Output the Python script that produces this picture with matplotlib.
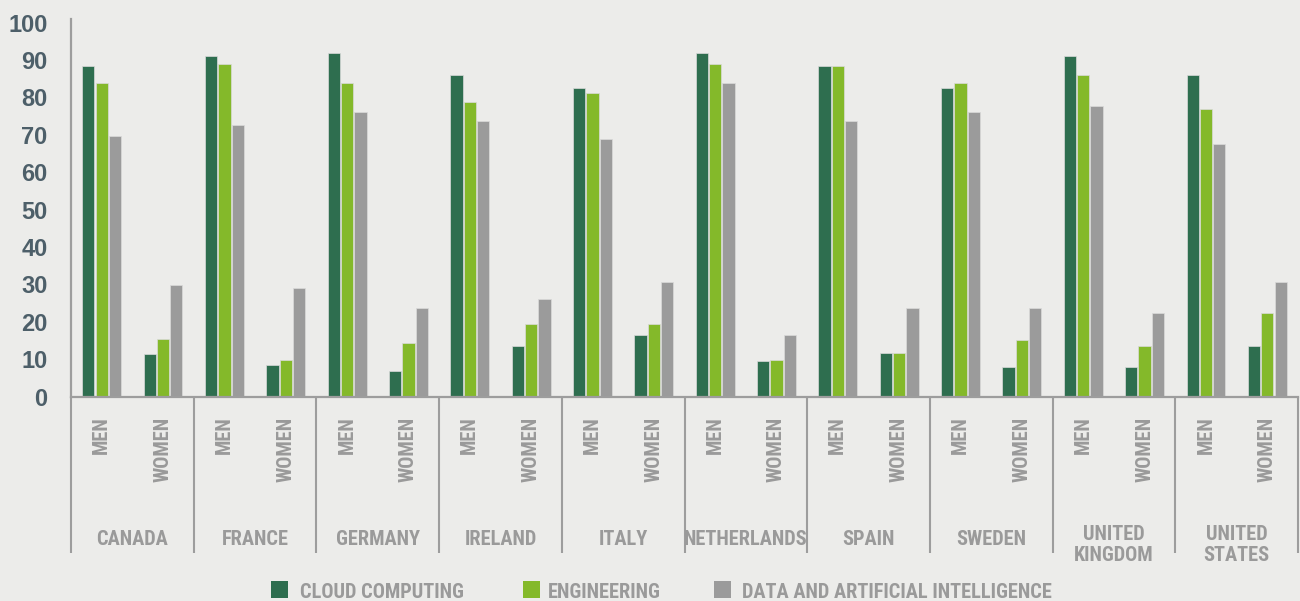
import matplotlib
matplotlib.use("Agg")
import matplotlib.pyplot as plt
import matplotlib.transforms as mtransforms
from matplotlib.patches import Rectangle
from matplotlib import font_manager as fm
from matplotlib.textpath import TextPath
import numpy as np

countries = ["CANADA", "FRANCE", "GERMANY", "IRELAND", "ITALY", "NETHERLANDS",
             "SPAIN", "SWEDEN", "UNITED\nKINGDOM", "UNITED\nSTATES"]
genders = ["MEN", "WOMEN"]
series_names = ["CLOUD COMPUTING", "ENGINEERING", "DATA AND ARTIFICIAL INTELLIGENCE"]

# values per country: (men, women)
cloud_men = [88.4, 91.0, 91.9, 85.9, 82.5, 91.9, 88.4, 82.5, 91.0, 85.9]
cloud_women = [11.5, 8.3, 6.7, 13.5, 16.4, 9.4, 11.7, 8.0, 8.0, 13.6]
eng_men = [83.9, 89.0, 83.9, 78.8, 81.2, 89.0, 88.4, 83.9, 85.9, 77.0]
eng_women = [15.5, 9.7, 14.3, 19.3, 19.3, 9.7, 11.7, 15.1, 13.6, 22.3]
ai_men = [69.8, 72.6, 76.2, 73.7, 68.9, 83.9, 73.7, 76.2, 77.8, 67.6]
ai_women = [29.7, 29.0, 23.8, 26.1, 30.6, 16.4, 23.7, 23.7, 22.3, 30.6]
yticks = list(range(0, 101, 10))

colors = ["#2e6e4f", "#84b92a", "#9b9b9b"]
bg = "#ececea"
label_gray = "#9a9a9a"
axis_gray = "#9d9d9d"
tick_color = "#4d5f69"

installed = set(f.name for f in fm.fontManager.ttflist)
def pick(cands):
    for c in cands:
        if c in installed:
            return c
    return "DejaVu Sans"

# choose the condensed bold face whose proportions best match the reference
# ("CLOUD COMPUTING" is about 163 px wide and 15 px tall there)
target_ratio = 163.0 / 15.0
cands = ["Roboto Condensed", "Archivo Narrow", "Barlow Semi Condensed", "Sofia Sans Condensed",
         "PT Sans Narrow", "IBM Plex Sans Condensed", "Encode Sans Semi Condensed",
         "Encode Sans Condensed"]
best, best_err, best_ext = None, 1e9, None
for c in cands:
    if c not in installed:
        continue
    try:
        fp = fm.FontProperties(family=c, weight="bold")
        if fm.findfont(fp, fallback_to_default=False) is None:
            continue
        ext = TextPath((0, 0), series_names[0], size=100, prop=fp).get_extents()
        r = ext.width / ext.height
        err = abs(r - target_ratio)
        if err < best_err:
            best, best_err, best_ext = c, err, ext
    except Exception:
        pass
cond_font = best if best else "DejaVu Sans"
if best_ext is None:
    best_ext = TextPath((0, 0), series_names[0], size=100,
                        prop=fm.FontProperties(family=cond_font, weight="bold")).get_extents()
# size in points so the rendered width is ~163 px at 100 dpi
fs = 100 * 163.0 / best_ext.width * 72.0 / 100.0
tick_font = pick(["Arimo", "Liberation Sans", "Helvetica", "DejaVu Sans"])
narrow = [cond_font, "DejaVu Sans"]

W, H = 1300, 601
fig = plt.figure(figsize=(W / 100, H / 100), dpi=100, facecolor=bg)

ax_left, ax_right, ax_top, ax_bot = 71, 1298, 19, 396.5
ax = fig.add_axes([ax_left / W, (H - ax_bot) / H, (ax_right - ax_left) / W, (ax_bot - ax_top) / H])
ax.set_facecolor(bg)

n = len(countries)
def interleave(m, w):
    out = []
    for a, b in zip(m, w):
        out += [a, b]
    return np.array(out)

series = [interleave(cloud_men, cloud_women), interleave(eng_men, eng_women), interleave(ai_men, ai_women)]
x = np.arange(2 * n)
off = 0.217
bw = 0.2
for k, vals in enumerate(series):
    ax.bar(x + (k - 1) * off, vals, width=bw, color=colors[k], edgecolor="#dadada",
           linewidth=0.5, zorder=2)

ax.set_xlim(-0.5, 2 * n - 0.5)
ax.set_ylim(0, 101)
ax.set_yticks(yticks)
ax.set_yticklabels([str(t) for t in yticks], fontsize=17, fontweight="bold",
                   color=tick_color, family=[tick_font, "DejaVu Sans"])
ax.tick_params(axis="y", length=0, pad=16.8)
ax.set_xticks([])
for s in ["top", "right"]:
    ax.spines[s].set_visible(False)
ax.spines["left"].set_color(axis_gray)
ax.spines["left"].set_linewidth(1.6)
ax.spines["bottom"].set_color(axis_gray)
ax.spines["bottom"].set_linewidth(1.6)

trans = mtransforms.blended_transform_factory(ax.transData, ax.transAxes)
axh = ax_bot - ax_top
def frac(py):
    return (ax_bot - py) / axh

# separators
for g in range(n + 1):
    xs = 2 * g - 0.5
    ax.plot([xs, xs], [0, frac(553)], transform=trans, color=axis_gray, lw=1.5,
            clip_on=False, solid_capstyle="butt")

# gender labels
for j in range(2 * n):
    ax.text(j, frac(416.5), genders[j % 2], transform=trans, rotation=90, ha="center",
            va="top", fontsize=fs, fontweight="bold", color=label_gray, family=narrow)

# country labels (baseline of the last line)
for g, c in enumerate(countries):
    if "\n" in c:
        ax.text(2 * g + 0.5, frac(560.7), c, transform=trans, ha="center", va="baseline",
                multialignment="center", fontsize=fs, fontweight="bold", color=label_gray,
                family=narrow, linespacing=1.12)
    else:
        ax.text(2 * g + 0.5, frac(545), c, transform=trans, ha="center", va="baseline",
                fontsize=fs, fontweight="bold", color=label_gray, family=narrow)

# legend
sq_x = [271, 523, 714]
txt_x = [300, 548, 742]
for k in range(3):
    fig.add_artist(Rectangle((sq_x[k] / W, (H - 598) / H), 17 / W, 17 / H,
                             transform=fig.transFigure, color=colors[k], lw=0))
    fig.text(txt_x[k] / W, (H - 597.7) / H, series_names[k], ha="left", va="baseline",
             fontsize=fs, fontweight="bold", color=label_gray, family=narrow)

fig.savefig("out.png", dpi=100, facecolor=bg)
